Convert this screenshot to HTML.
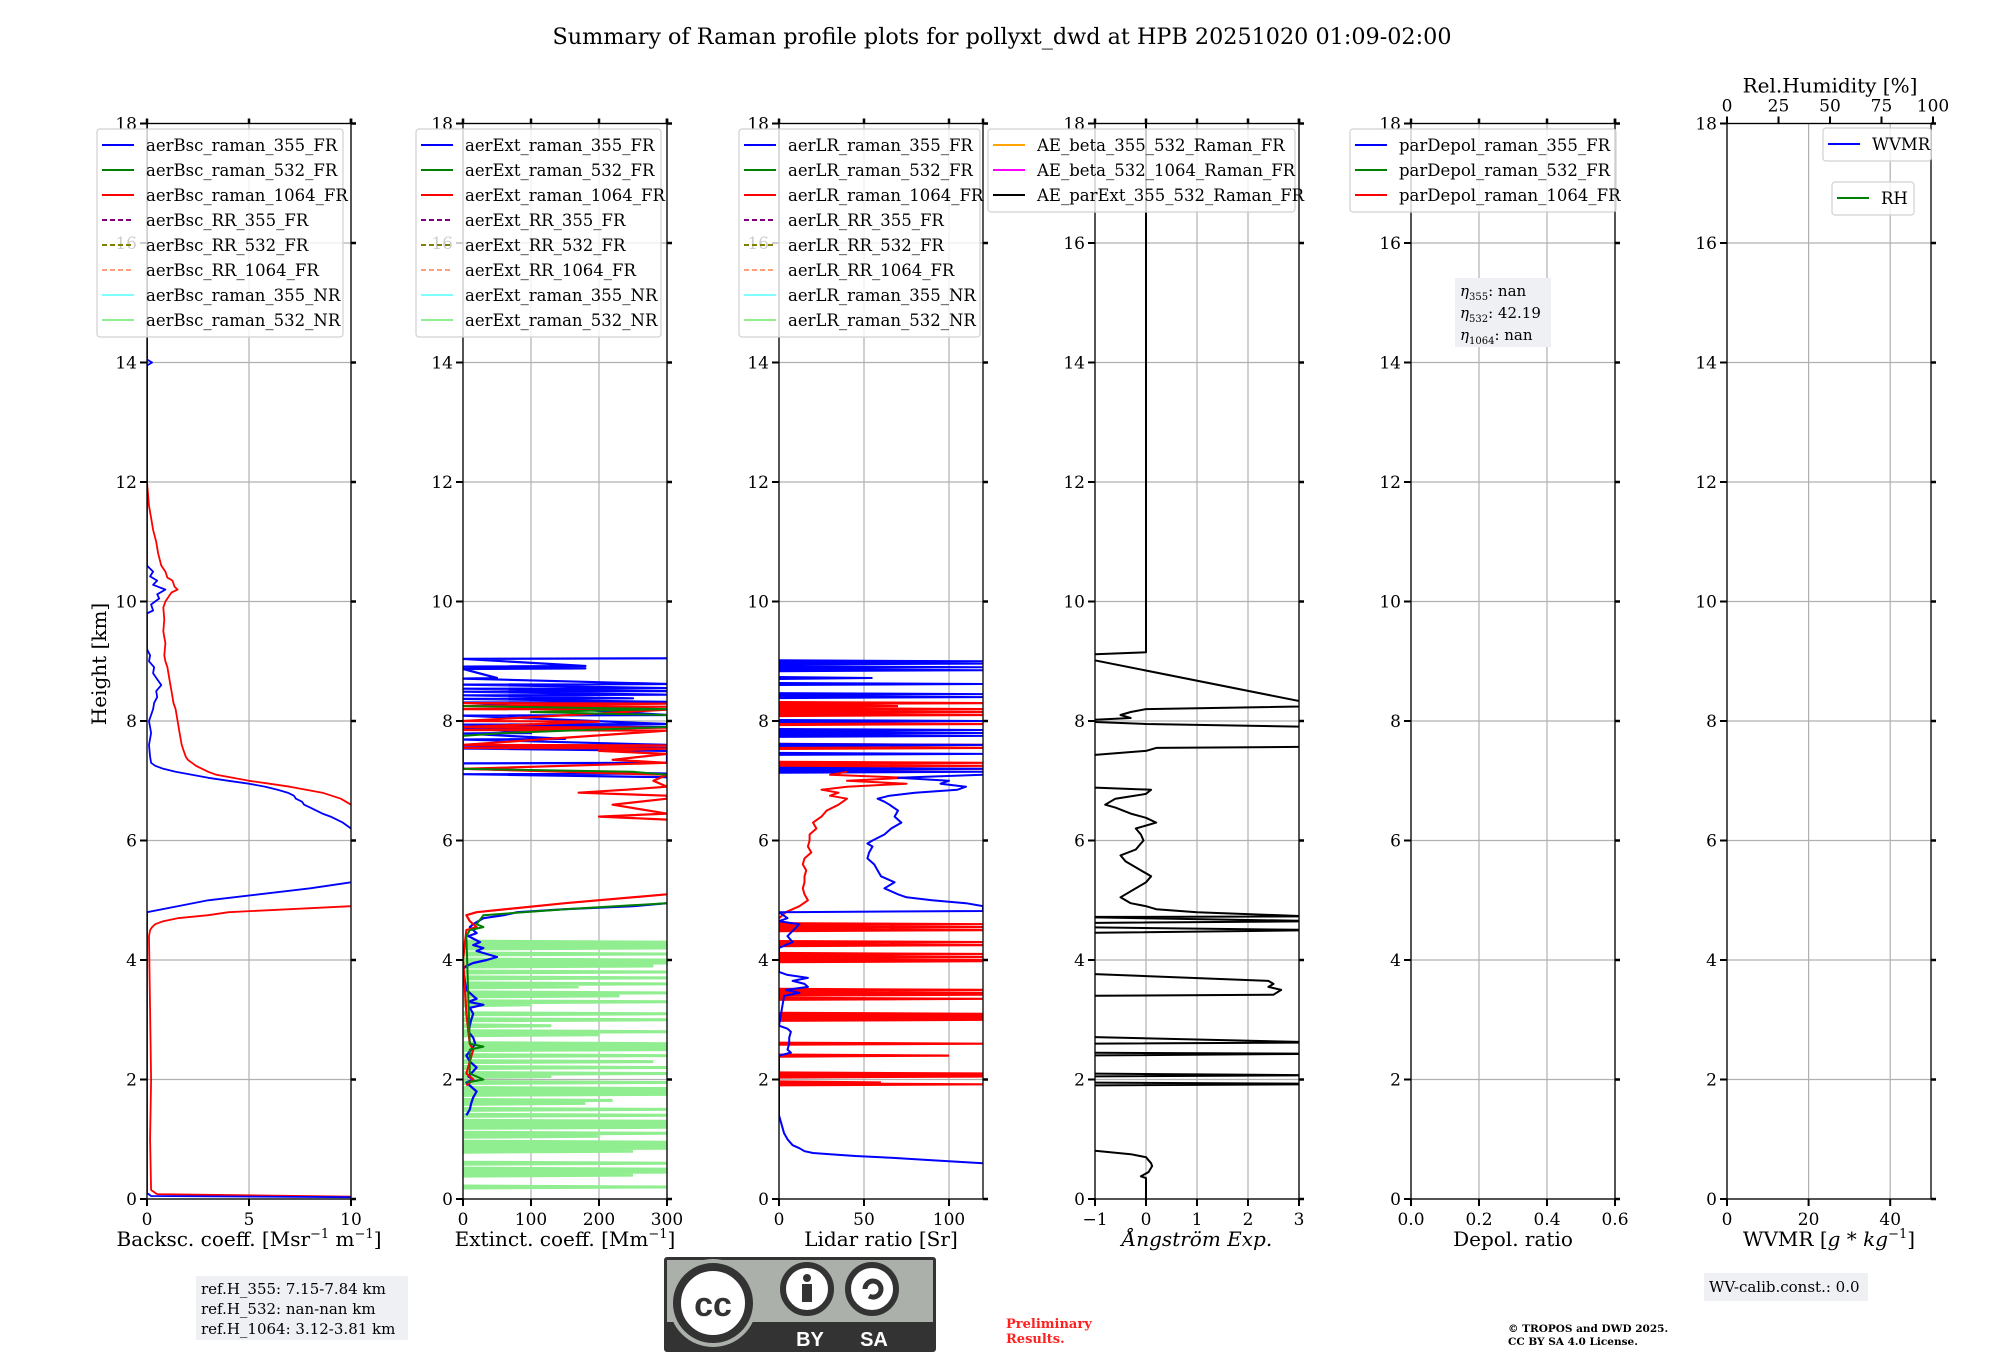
<!DOCTYPE html>
<html><head><meta charset="utf-8">
<style>
html,body{margin:0;padding:0;background:#fff;}
svg{display:block;font-family:"DejaVu Serif","Liberation Serif",serif;}
</style></head>
<body>
<svg id="chart" width="2000" height="1360" viewBox="0 0 2000 1360" xmlns="http://www.w3.org/2000/svg">
<text x="1002" y="44" font-size="22.3" text-anchor="middle">Summary of Raman profile plots for pollyxt_dwd at HPB 20251020 01:09-02:00</text>
<text transform="translate(106,664) rotate(-90)" font-size="20" text-anchor="middle">Height [km]</text>
<g id="panels"></g>
<g>
<rect x="1455" y="278" width="96" height="69" fill="#eef0f4"/>
<text x="1460" y="296" font-size="15"><tspan font-style="italic">η</tspan><tspan font-size="10" dy="4">355</tspan><tspan dy="-4">: nan</tspan></text>
<text x="1460" y="318" font-size="15"><tspan font-style="italic">η</tspan><tspan font-size="10" dy="4">532</tspan><tspan dy="-4">: 42.19</tspan></text>
<text x="1460" y="340" font-size="15"><tspan font-style="italic">η</tspan><tspan font-size="10" dy="4">1064</tspan><tspan dy="-4">: nan</tspan></text>
</g>
<g>
<rect x="196" y="1276" width="212" height="64" fill="#eef0f4"/>
<text x="201" y="1294" font-size="15">ref.H_355: 7.15-7.84 km</text>
<text x="201" y="1314" font-size="15">ref.H_532: nan-nan km</text>
<text x="201" y="1334" font-size="15">ref.H_1064: 3.12-3.81 km</text>
</g>
<g>
<rect x="1704" y="1273" width="164" height="28" fill="#eef0f4"/>
<text x="1709" y="1292" font-size="15">WV-calib.const.: 0.0</text>
</g>
<g>
<rect x="664" y="1257" width="272" height="95" rx="3" fill="#333"/>
<rect x="667" y="1260" width="266" height="62" fill="#abb1aa"/>
<circle cx="713" cy="1303" r="44" fill="#abb1aa"/>
<circle cx="713" cy="1303" r="36" fill="#fff" stroke="#333" stroke-width="8"/>
<text x="713" y="1316" font-family="Liberation Sans,sans-serif" font-weight="bold" font-size="34" text-anchor="middle" fill="#333">cc</text>
<circle cx="807" cy="1289" r="24" fill="#fff" stroke="#333" stroke-width="6"/>
<circle cx="807" cy="1278" r="4" fill="#333"/>
<rect x="802" y="1284" width="10" height="18" fill="#333"/>
<circle cx="872" cy="1289" r="24" fill="#fff" stroke="#333" stroke-width="6"/>
<path d="M865 1289 a8 8 0 1 1 4 7" fill="none" stroke="#333" stroke-width="5"/>
<text x="810" y="1346" font-family="Liberation Sans,sans-serif" font-weight="bold" font-size="20" text-anchor="middle" fill="#fff">BY</text>
<text x="874" y="1346" font-family="Liberation Sans,sans-serif" font-weight="bold" font-size="20" text-anchor="middle" fill="#fff">SA</text>
</g>
<text x="1006" y="1328" font-size="13" font-weight="bold" fill="#ff2020">Preliminary</text>
<text x="1006" y="1343" font-size="13" font-weight="bold" fill="#ff2020">Results.</text>
<text x="1508" y="1332" font-size="10.5" font-weight="bold">© TROPOS and DWD 2025.</text>
<text x="1508" y="1345" font-size="10.5" font-weight="bold">CC BY SA 4.0 License.</text>
</svg>
<script>
// ---------- data ----------
const yTicks = [0,2,4,6,8,10,12,14,16,18];
// backscatter panel
const bsc355H = [18,14.05,14.0,13.95,10.6,10.5,10.42,10.35,10.28,10.2,10.12,10.05,9.95,9.85,9.8,9.2,9.1,9.0,8.9,8.8,8.7,8.6,8.5,8.4,8.3,8.2,8.1,8.0,7.8,7.6,7.4,7.3,7.25,7.2,7.15,7.1,7.05,7.0,6.95,6.9,6.85,6.8,6.75,6.7,6.65,6.6,6.55,6.5,6.45,6.4,6.3,6.2,6.0,5.5,5.3,5.25,5.2,5.1,5.0,4.9,4.8,2,0.1,0.05,0.03,0.02];
const bsc355V = [0,0,0.25,0,0,0.3,0.15,0.5,0.3,0.9,0.5,0.6,0.2,0.3,0,0,0.15,0.1,0.35,0.3,0.5,0.7,0.45,0.5,0.35,0.3,0.2,0.1,0.2,0.1,0.15,0.2,0.4,0.8,1.4,2.2,3.0,4,5,5.8,6.4,6.9,7.2,7.3,7.6,7.7,8.0,8.3,8.6,9,9.6,10,11,11,10,9,8,5.5,3,1.5,0,0,0,0.2,10,10];
const bsc1064H = [18,12,11.8,11.6,11.4,11.2,11,10.8,10.6,10.5,10.4,10.35,10.3,10.25,10.2,10.15,10.1,10.0,9.9,9.7,9.5,9.3,9.1,9.0,8.9,8.7,8.5,8.3,8.2,8.0,7.8,7.6,7.5,7.4,7.35,7.3,7.25,7.2,7.15,7.1,7.05,7.0,6.95,6.9,6.85,6.8,6.7,6.6,6.0,5.0,4.9,4.85,4.8,4.75,4.7,4.65,4.6,4.55,4.5,4.4,2,1,0.15,0.08,0.04,0.02];
const bsc1064V = [0,0,0.05,0.1,0.2,0.3,0.45,0.55,0.7,0.9,1.0,1.25,1.3,1.35,1.5,1.2,1.1,0.9,0.8,0.85,0.8,0.9,0.85,0.9,1.0,1.1,1.2,1.3,1.4,1.5,1.6,1.7,1.8,1.9,2.0,2.2,2.4,2.7,3.0,3.4,4.2,5,6,7,7.8,8.6,9.5,10,11,11,10,7,4,3,1.5,0.8,0.4,0.25,0.15,0.1,0.2,0.15,0.2,0.5,10,10];
// extinction panel (profile parts)
const ext355H = [9.05,9.04,8.92,8.91,8.88,8.87,8.72,8.71,8.62,8.61,8.55,8.54,8.5,8.49,8.44,8.43,8.38,8.37,8.32,8.31,8.1,8.09,7.95,7.94,7.9,7.89,7.8,7.79,7.7,7.69,7.6,7.59,7.55,7.54,7.5,7.3,7.29,7.2,7.12,7.11,7.06,7.05,7.0,5.5,4.95,4.9,4.85,4.8,4.75,4.7,4.6,4.55,4.45,4.4,4.3,4.25,4.2,4.15,4.05,4.0,3.95,3.9,3.85,3.5,3.45,3.4,3.35,3.3,3.25,3.2,3.1,3.0,2.9,2.8,2.7,2.6,2.5,2.4,2.3,2.2,2.1,2.05,2.0,1.95,1.9,1.8,1.7,1.6,1.5,1.4];
const ext355V = [300,0,180,0,180,0,50,0,300,0,300,0,300,0,300,0,250,0,300,0,300,0,300,0,300,0,100,0,150,0,300,0,300,0,300,300,0,0,300,0,300,300,350,350,300,250,150,80,60,30,15,10,20,8,25,15,30,20,50,35,15,5,0,5,10,15,20,8,30,10,15,12,10,8,15,18,12,5,10,20,12,8,15,5,10,20,15,12,10,5];
const ext532H = [8.25,8.2,8.15,8.1,7.9,7.8,7.75,7.2,7.15,7.1,5.5,4.95,4.85,4.75,4.6,4.55,4.5,4.4,2.6,2.55,2.5,2.1,2.0,1.95];
const ext532V = [0,300,100,300,300,60,0,0,250,300,350,300,150,30,20,30,10,5,10,30,10,10,30,5];
const ext1064H = [8.3,8.29,8.25,8.24,8.2,8.19,8.0,7.99,7.9,7.89,7.85,7.84,7.6,7.59,7.55,7.54,7.5,7.45,7.35,7.3,7.2,7.15,7.1,7.0,6.9,6.85,6.8,6.75,6.7,6.6,6.45,6.4,6.35,6.3,5.6,5.1,4.95,4.8,4.75,4.65,4.55,4.5,4.0,3.5,3.1,2.6,2.5,2.1,2.0,1.9];
const ext1064V = [0,300,0,300,0,300,0,200,0,300,0,300,0,300,0,300,200,300,220,300,0,150,300,280,300,240,170,300,300,220,300,200,300,350,350,300,150,20,5,10,20,5,0,3,5,10,15,5,15,5];
// green NR extinction: spike heights & values
const ext532NRH = [4.3,4.25,4.2,4.1,4.0,3.95,3.9,3.8,3.7,3.6,3.55,3.45,3.4,3.3,3.25,3.1,3.0,2.9,2.8,2.75,2.6,2.55,2.5,2.4,2.3,2.2,2.1,2.05,1.95,1.85,1.8,1.75,1.65,1.6,1.5,1.4,1.3,1.25,1.2,1.1,1.05,0.95,0.9,0.85,0.8,0.6,0.5,0.45,0.4,0.2];
const ext532NRV = [300,300,300,300,300,300,280,300,300,300,170,300,230,300,100,300,300,130,300,200,300,300,300,300,280,300,300,130,300,300,300,300,220,180,300,300,300,300,300,300,200,300,300,300,250,300,300,300,250,300];
// lidar ratio panel
const lr355H = [7.1,7.05,7.0,6.95,6.9,6.85,6.8,6.75,6.7,6.65,6.6,6.5,6.4,6.3,6.2,6.1,6.0,5.95,5.9,5.8,5.7,5.6,5.5,5.4,5.3,5.2,5.1,5.05,5.0,4.95,4.9,4.82,4.8,4.7,4.65,4.6,4.4,4.3,4.2,3.8,3.75,3.7,3.65,3.6,3.55,3.5,3.45,3.4,2.9,2.85,2.8,2.7,2.6,2.5,2.45,2.4,1.4,1.3,1.2,1.1,1.0,0.9,0.85,0.8,0.77,0.75,0.72,0.7,0.65,0.6];
const lr355V = [120,70,100,95,110,105,80,65,58,62,65,70,68,72,66,62,55,52,55,53,52,56,58,60,68,62,70,75,90,110,120,120,0,5,0,12,5,8,0,0,5,17,8,15,17,4,12,3,0,5,7,6,6,5,7,0,0,1,2,3,5,8,12,15,20,30,45,60,90,120];
const lr1064H = [7.15,7.1,7.05,7.0,6.95,6.9,6.85,6.8,6.75,6.7,6.6,6.5,6.4,6.3,6.2,6.1,6.0,5.9,5.8,5.7,5.6,5.5,5.4,5.3,5.2,5.1,5.0,4.9,4.85,4.8,4.75,4.7];
const lr1064V = [40,30,75,40,75,40,25,35,30,40,35,28,25,20,22,18,18,17,19,15,14,16,15,15,14,15,17,12,8,4,2,0];
// LR spikes
const lrSpike355H = [9.0,8.96,8.9,8.85,8.72,8.62,8.45,8.4,8.0,7.85,7.8,7.75,7.6,7.45,7.2,7.15];
const lrSpike355V = [120,120,120,120,55,120,120,120,120,120,120,120,120,120,120,120];
const lrSpike1064H = [8.3,8.25,8.2,8.15,8.1,7.95,7.85,7.6,7.55,7.3,7.25,7.2,4.6,4.55,4.5,4.3,4.25,4.1,4.05,4.0,3.98,3.5,3.45,3.42,3.35,3.1,3.08,3.05,3.03,3.0,2.6,2.4,2.1,2.07,2.05,1.95,1.92];
const lrSpike1064V = [120,70,120,120,120,120,25,120,120,120,120,120,120,120,120,120,120,120,120,120,120,120,120,120,120,120,120,120,120,120,120,100,120,120,120,60,120];
// angstrom panel
const aeH = [0,0.35,0.38,0.45,0.55,0.6,0.65,0.7,0.75,0.85,1.9,1.92,1.93,1.95,2.05,2.07,2.1,2.4,2.43,2.45,2.6,2.62,2.72,3.4,3.42,3.5,3.55,3.6,3.65,3.78,4.45,4.5,4.55,4.62,4.65,4.72,4.73,4.8,4.85,4.9,4.95,5.05,5.15,5.3,5.4,5.55,5.65,5.75,5.85,5.95,6.0,6.1,6.2,6.3,6.38,6.45,6.55,6.6,6.7,6.78,6.85,6.9,7.4,7.5,7.55,7.57,7.9,7.95,8.0,8.05,8.1,8.15,8.2,8.25,9.1,9.15,18];
const aeV = [0,0,-0.1,0.05,0.12,0.1,0.05,0,-0.3,-1.5,-1.5,3.5,3.5,-1.5,-1.5,3.5,-1.5,-1.5,3.5,-1.5,-1.5,3.5,-1.5,-1.5,2.5,2.65,2.4,2.5,2.4,-1.5,-1.5,3.5,-1.5,-1.5,3.5,-1.5,3.2,1.0,0.2,0,-0.3,-0.5,-0.3,0,0.1,-0.2,-0.4,-0.5,-0.2,-0.1,-0.05,-0.1,-0.2,0.2,0,-0.3,-0.6,-0.8,-0.6,0,0.1,-1.5,-1.5,0,0.2,3.5,3.5,0,-1.5,-0.3,-0.5,-0.3,0,3.5,-1.5,0,0];

const xTickLabels1 = ["0","5","10"], xTickVals1 = [0,5,10];
const xTickLabels2 = ["0","100","200","300"], xTickVals2 = [0,100,200,300];
const xTickLabels3 = ["0","50","100"], xTickVals3 = [0,50,100];
const xTickLabels4 = ["−1","0","1","2","3"], xTickVals4 = [-1,0,1,2,3];
const xTickLabels5 = ["0.0","0.2","0.4","0.6"], xTickVals5 = [0,0.2,0.4,0.6];
const xTickLabels6 = ["0","20","40"], xTickVals6 = [0,20,40];
const rhTickVals = [0,25,50,75,100];

// ---------- drawing ----------
const NS = "http://www.w3.org/2000/svg";
const root = document.getElementById('panels');
const Y0 = 1199, PXKM = 59.75, PW = 204;
function yPx(h){ return Y0 - h*PXKM; }
function mk(tag, attrs, parent){ const e=document.createElementNS(NS,tag); for(const k in attrs) e.setAttribute(k,attrs[k]); (parent||root).appendChild(e); return e; }

const lefts = [147,463,779,1095,1411,1727];
const panels = [
 {name:'backscatter', xmin:0, xmax:10, tv:xTickVals1, tl:xTickLabels1, label:'Backsc. coeff. [Msr<tspan font-size="13" dy="-8">−1</tspan><tspan dy="8"> m</tspan><tspan font-size="13" dy="-8">−1</tspan><tspan dy="8">]</tspan>'},
 {name:'extinction', xmin:0, xmax:300, tv:xTickVals2, tl:xTickLabels2, label:'Extinct. coeff. [Mm<tspan font-size="13" dy="-8">−1</tspan><tspan dy="8">]</tspan>'},
 {name:'lidar-ratio', xmin:0, xmax:120, tv:xTickVals3, tl:xTickLabels3, label:'Lidar ratio [Sr]'},
 {name:'angstrom', xmin:-1, xmax:3, tv:xTickVals4, tl:xTickLabels4, label:'<tspan font-style="italic">Ångström Exp.</tspan>'},
 {name:'depol', xmin:0, xmax:0.6, tv:xTickVals5, tl:xTickLabels5, label:'Depol. ratio'},
 {name:'wvmr', xmin:0, xmax:50, tv:xTickVals6, tl:xTickLabels6, label:'WVMR [<tspan font-style="italic">g * kg</tspan><tspan font-size="13" dy="-8">−1</tspan><tspan dy="8">]</tspan>'}
];
panels.forEach((p,i)=>{ p.left=lefts[i]; p.x = v => p.left + (v-p.xmin)/(p.xmax-p.xmin)*PW; });

panels.forEach((p,i)=>{
  const g = mk('g',{});
  
  
  const cp = mk('clipPath',{id:'clip'+i},g);
  mk('rect',{x:p.left,y:yPx(18),width:PW,height:18*PXKM},cp);
  yTicks.forEach(t=>{ const l=mk('line',{x1:p.left,x2:p.left+PW,y1:yPx(t),y2:yPx(t),stroke:'#b0b0b0','stroke-width':1.2},g);
      });
  p.tv.forEach(t=>{ const l=mk('line',{x1:p.x(t),x2:p.x(t),y1:yPx(0),y2:yPx(18),stroke:'#b0b0b0','stroke-width':1.2},g);
      });
  p.g=g; p.clip='url(#clip'+i+')';
});

function series(p, H, V, color, w, name){
  const pts = H.map((h,k)=>p.x(V[k]).toFixed(1)+','+yPx(h).toFixed(1)).join(' ');
  const e = mk('polyline',{points:pts,fill:'none',stroke:color,'stroke-width':w,'clip-path':p.clip,'stroke-linejoin':'round'},p.g);
  
  
}
function spikes(p, H, V, color, w, name, base){
  let d='';
  H.forEach((h,k)=>{
    const y=yPx(h);
    d += 'M'+p.x(base).toFixed(1)+','+(y+1).toFixed(1)+' L'+p.x(V[k]).toFixed(1)+','+y.toFixed(1)+' L'+p.x(base).toFixed(1)+','+(y-1).toFixed(1)+' ';
  });
  const e = mk('path',{d:d,fill:'none',stroke:color,'stroke-width':w,'clip-path':p.clip},p.g);
  
  
}
const P=panels;
series(P[0], bsc1064H, bsc1064V, '#ff0000', 1.8, 'aerBsc-raman-1064-line');
series(P[0], bsc355H, bsc355V, '#0000ff', 1.8, 'aerBsc-raman-355-line');
spikes(P[1], ext532NRH, ext532NRV, '#90ee90', 3, 'aerExt-raman-532-NR-line', 0);
series(P[1], ext355H, ext355V, '#0000ff', 2.2, 'aerExt-raman-355-line');
series(P[1], ext1064H, ext1064V, '#ff0000', 2.2, 'aerExt-raman-1064-line');
series(P[1], ext532H, ext532V, '#008000', 2, 'aerExt-raman-532-line');
spikes(P[2], lrSpike1064H, lrSpike1064V, '#ff0000', 2.2, 'aerLR-raman-1064-spikes', 0);
spikes(P[2], lrSpike355H, lrSpike355V, '#0000ff', 2, 'aerLR-raman-355-spikes', 0);
series(P[2], lr1064H, lr1064V, '#ff0000', 2, 'aerLR-raman-1064-line');
series(P[2], lr355H, lr355V, '#0000ff', 2, 'aerLR-raman-355-line');
series(P[3], aeH, aeV, '#000000', 2, 'AE-parExt-355-532-line');

panels.forEach((p,i)=>{
  const g=p.g, L=p.left, R=p.left+PW, T=yPx(18), B=yPx(0);
  mk('rect',{x:L,y:T,width:PW,height:B-T,fill:'none',stroke:'#000','stroke-width':1.3},g);
  yTicks.forEach(t=>{
    mk('line',{x1:L-7,x2:L,y1:yPx(t),y2:yPx(t),stroke:'#000','stroke-width':2},g);
    mk('line',{x1:R,x2:R+5,y1:yPx(t),y2:yPx(t),stroke:'#000','stroke-width':2.5},g);
    const tx=mk('text',{x:L-10,y:yPx(t)+6,'font-size':17,'text-anchor':'end'},g);
    tx.textContent=t;
     
  });
  p.tv.forEach((t,k)=>{
    mk('line',{x1:p.x(t),x2:p.x(t),y1:B,y2:B+7,stroke:'#000','stroke-width':2},g);
    if(i<5) mk('line',{x1:p.x(t),x2:p.x(t),y1:T-5,y2:T,stroke:'#000','stroke-width':2.5},g);
    const tx=mk('text',{x:p.x(t),y:B+26,'font-size':17,'text-anchor':'middle'},g);
    tx.textContent=p.tl[k];
     
  });
  if(i<5) mk('line',{x1:R,x2:R,y1:T-5,y2:T,stroke:'#000','stroke-width':2.5},g);
  const xl=mk('text',{x:(L+R)/2,y:B+47,'font-size':20,'text-anchor':'middle'},g);
  xl.innerHTML=p.label;
   
});
(function(){
  const p=P[5], g=p.g, T=yPx(18);
  rhTickVals.forEach(t=>{
    const x=p.left+t/100*(PW+2);
    mk('line',{x1:x,x2:x,y1:T-7,y2:T,stroke:'#000','stroke-width':2},g);
    const tx=mk('text',{x:x,y:T-12,'font-size':17,'text-anchor':'middle'},g);
    tx.textContent=t;
     
  });
  const tt=mk('text',{x:p.left+103,y:T-31,'font-size':20,'text-anchor':'middle'},g);
  tt.textContent='Rel.Humidity [%]';
   
})();

function legend(x,y,w,entries,name){
  const g=mk('g',{});
  
  
  const h=entries.length*25+8;
  mk('rect',{x:x,y:y,width:w,height:h,rx:3,fill:'#fff','fill-opacity':0.8,stroke:'#d0d0d0','stroke-width':1.2},g);
  entries.forEach((e,k)=>{
    const cy=y+16+k*25;
    mk('line',{x1:x+5,x2:x+37,y1:cy,y2:cy,stroke:e[1],'stroke-width':2,'stroke-dasharray':e[2]?'5,3':'none'},g);
    const t=mk('text',{x:x+49,y:cy+6,'font-size':16.5},g);
    t.textContent=e[0];
  });
}
const blue='#0000ff',green='#008000',red='#ff0000';
function bscLike(pre){return [[pre+'_raman_355_FR',blue],[pre+'_raman_532_FR',green],[pre+'_raman_1064_FR',red],[pre+'_RR_355_FR','#800080',1],[pre+'_RR_532_FR','#808000',1],[pre+'_RR_1064_FR','#ffa07a',1],[pre+'_raman_355_NR','#7fffff'],[pre+'_raman_532_NR','#90ee90']];}
legend(97,129,246,bscLike('aerBsc'),'backscatter-legend');
legend(416,129,245,bscLike('aerExt'),'extinction-legend');
legend(739,129,241,bscLike('aerLR'),'lidar-ratio-legend');
legend(988,129,307,[['AE_beta_355_532_Raman_FR','#ffa500'],['AE_beta_532_1064_Raman_FR','#ff00ff'],['AE_parExt_355_532_Raman_FR','#000']],'angstrom-legend');
legend(1350,129,266,[['parDepol_raman_355_FR',blue],['parDepol_raman_532_FR',green],['parDepol_raman_1064_FR',red]],'depol-legend');
legend(1823,128,108,[['WVMR',blue]],'wvmr-legend');
legend(1832,182,82,[['RH',green]],'rh-legend');
</script>
</body></html>
